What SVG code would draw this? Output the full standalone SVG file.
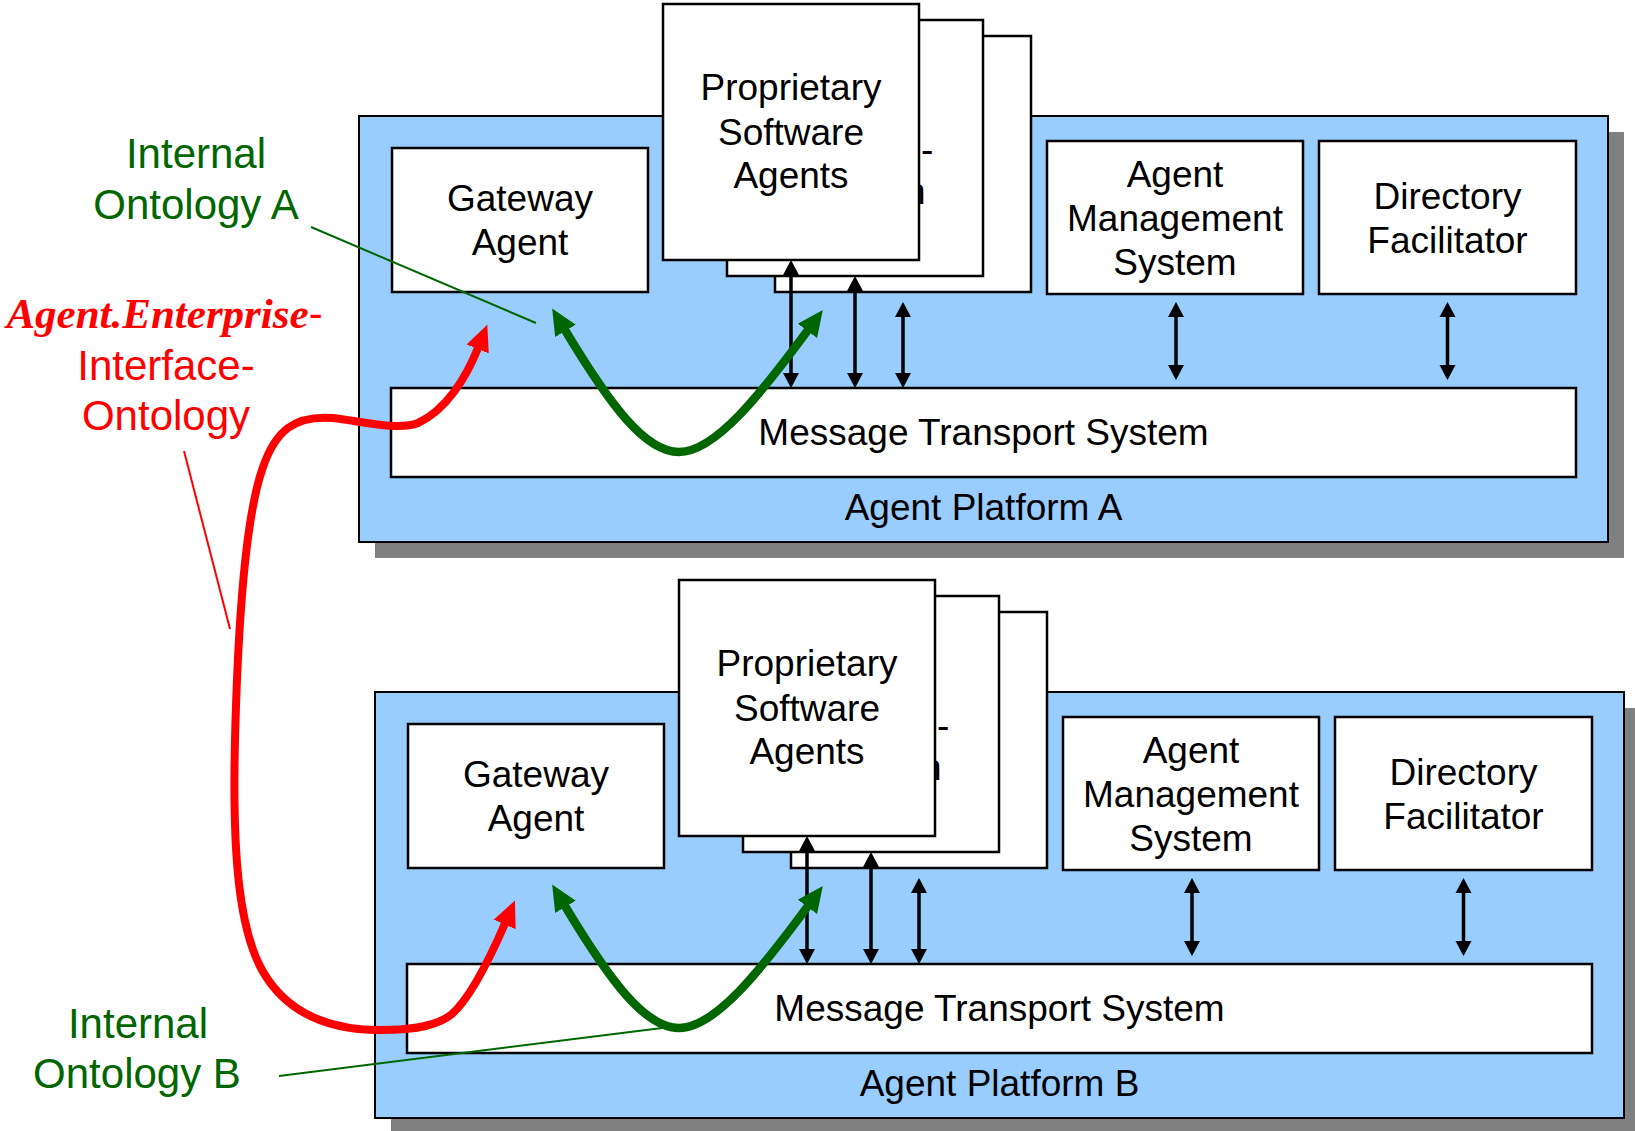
<svg xmlns="http://www.w3.org/2000/svg" width="1635" height="1131" viewBox="0 0 1635 1131">
<style>
.shadow{fill:#808080}
.plat{fill:#99CCFF;stroke:#000;stroke-width:2}
.box{fill:#fff;stroke:#000;stroke-width:2.5}
.t{font-family:"Liberation Sans",Arial,sans-serif;font-size:37px;fill:#000;text-anchor:middle}
.tl{font-family:"Liberation Sans",Arial,sans-serif;font-size:37px;fill:#000}
.g{font-family:"Liberation Sans",Arial,sans-serif;font-size:42px;fill:#006600;text-anchor:middle}
.r{font-family:"Liberation Sans",Arial,sans-serif;font-size:42px;fill:#FF0000;text-anchor:middle}
.blk{fill:none;stroke:#000;stroke-width:3.5;marker-start:url(#ah);marker-end:url(#ah)}
.grn{fill:none;stroke:#006600;stroke-width:8.5;marker-start:url(#gh);marker-end:url(#gh)}
.red{fill:none;stroke:#FF0000;stroke-width:8;marker-start:url(#rh);marker-end:url(#rh)}
.lg{fill:none;stroke:#006600;stroke-width:2}
.lr{fill:none;stroke:#FF0000;stroke-width:2}
</style>
<defs>
<marker id="ah" markerUnits="userSpaceOnUse" markerWidth="18" markerHeight="18" viewBox="0 -9 18 18" refX="1" refY="0" orient="auto-start-reverse"><path d="M0,-8 L15,0 L0,8 z" fill="#000"/></marker>
<marker id="gh" markerUnits="userSpaceOnUse" markerWidth="28" markerHeight="26" viewBox="0 -13 28 26" refX="1" refY="0" orient="auto-start-reverse"><path d="M0,-12 L26,0 L0,12 z" fill="#006600"/></marker>
<marker id="rh" markerUnits="userSpaceOnUse" markerWidth="28" markerHeight="26" viewBox="0 -13 28 26" refX="1" refY="0" orient="auto-start-reverse"><path d="M0,-12 L26,0 L0,12 z" fill="#FF0000"/></marker>
</defs>

<!-- Platform A -->
<g id="platformA">
<rect class="shadow" x="375" y="132" width="1249" height="426"/>
<rect class="plat" x="359" y="116" width="1249" height="426"/>
<text class="t" x="983.5" y="520">Agent Platform A</text>
</g>
<g id="gatewayA">
<rect class="box" x="392" y="148" width="256" height="144"/>
<text class="t" x="520" y="211">Gateway</text>
<text class="t" x="520" y="255">Agent</text>
</g>
<g id="agentsA">
<rect class="box" x="775" y="36" width="256" height="256"/>
<rect class="box" x="727" y="20" width="256" height="256"/>
<text class="tl" x="921" y="162">-</text>
<text class="tl" x="905" y="204">n</text>
<rect class="box" x="663" y="4" width="256" height="256"/>
<text class="t" x="791" y="100">Proprietary</text>
<text class="t" x="791" y="145">Software</text>
<text class="t" x="791" y="188">Agents</text>
</g>
<g id="amsA">
<rect class="box" x="1047" y="141" width="256" height="153"/>
<text class="t" x="1175" y="187">Agent</text>
<text class="t" x="1175" y="231">Management</text>
<text class="t" x="1175" y="275">System</text>
</g>
<g id="dfA">
<rect class="box" x="1319" y="141" width="257" height="153"/>
<text class="t" x="1447.5" y="209">Directory</text>
<text class="t" x="1447.5" y="253">Facilitator</text>
</g>
<g id="mtsA">
<rect class="box" x="391" y="388" width="1185" height="89"/>
<text class="t" x="983.5" y="445">Message Transport System</text>
</g>

<!-- Platform B -->
<g id="platformB">
<rect class="shadow" x="391" y="708" width="1249" height="426"/>
<rect class="plat" x="375" y="692" width="1249" height="426"/>
<text class="t" x="999.5" y="1096">Agent Platform B</text>
</g>
<g id="gatewayB">
<rect class="box" x="408" y="724" width="256" height="144"/>
<text class="t" x="536" y="787">Gateway</text>
<text class="t" x="536" y="831">Agent</text>
</g>
<g id="agentsB">
<rect class="box" x="791" y="612" width="256" height="256"/>
<rect class="box" x="743" y="596" width="256" height="256"/>
<text class="tl" x="937" y="738">-</text>
<text class="tl" x="921" y="780">n</text>
<rect class="box" x="679" y="580" width="256" height="256"/>
<text class="t" x="807" y="676">Proprietary</text>
<text class="t" x="807" y="721">Software</text>
<text class="t" x="807" y="764">Agents</text>
</g>
<g id="amsB">
<rect class="box" x="1063" y="717" width="256" height="153"/>
<text class="t" x="1191" y="763">Agent</text>
<text class="t" x="1191" y="807">Management</text>
<text class="t" x="1191" y="851">System</text>
</g>
<g id="dfB">
<rect class="box" x="1335" y="717" width="257" height="153"/>
<text class="t" x="1463.5" y="785">Directory</text>
<text class="t" x="1463.5" y="829">Facilitator</text>
</g>
<g id="mtsB">
<rect class="box" x="407" y="964" width="1185" height="89"/>
<text class="t" x="999.5" y="1021">Message Transport System</text>
</g>

<!-- Connectors -->
<g id="connectors">
<path class="blk" d="M791,274 V374"/>
<path class="blk" d="M855,290 V374"/>
<path class="blk" d="M903,316 V374"/>
<path class="blk" d="M1176,316 V366"/>
<path class="blk" d="M1447.5,316 V366"/>
<path class="blk" d="M807,850 V950"/>
<path class="blk" d="M871,866 V950"/>
<path class="blk" d="M919,892 V950"/>
<path class="blk" d="M1192,892 V942"/>
<path class="blk" d="M1463.5,892 V942"/>
<path class="grn" d="M565,330 C610,405 645,452 679,452 C715,452 760,395 808,330"/>
<path class="grn" d="M565,906 C610,981 645,1028 679,1028 C715,1028 760,971 808,906"/>
<path class="red" d="M478,348 C466,378 446,410 418,423 C398,431 360,421 333,418 C295,415 275,430 262,470 C245,520 238,620 235,740 C232,860 240,930 262,970 C290,1020 340,1030 380,1030 C420,1030 440,1024 452,1014 C470,998 490,958 505,923.5"/>
<line class="lg" x1="311" y1="227" x2="536" y2="323"/>
<line class="lg" x1="279" y1="1076" x2="662" y2="1028"/>
<line class="lr" x1="184" y1="451" x2="230" y2="629"/>
</g>

<!-- Labels -->
<g id="labelOntologyA">
<text class="g" x="196" y="168">Internal</text>
<text class="g" x="196" y="219">Ontology A</text>
</g>
<g id="labelInterface">
<text class="r" x="164.5" y="328"><tspan font-family="'Liberation Serif','Times New Roman',serif" font-weight="bold" font-style="italic" font-size="43">Agent.Enterprise</tspan>-</text>
<text class="r" x="166" y="380">Interface-</text>
<text class="r" x="166" y="430">Ontology</text>
</g>
<g id="labelOntologyB">
<text class="g" x="138" y="1038">Internal</text>
<text class="g" x="137" y="1088">Ontology B</text>
</g>
</svg>
